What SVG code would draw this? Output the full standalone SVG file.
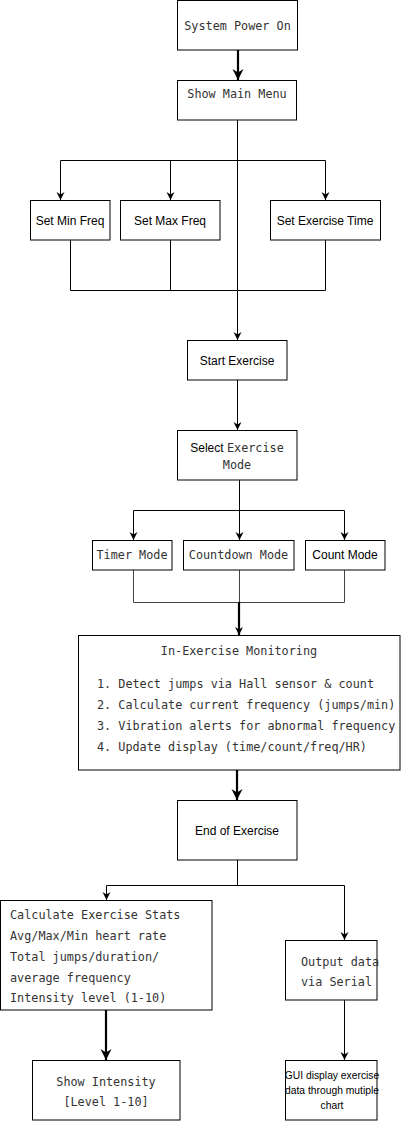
<svg xmlns="http://www.w3.org/2000/svg" width="406" height="1121" viewBox="0 0 406 1121">
<style>
.box{fill:#fff;stroke:#000;stroke-width:1}
.m{font-family:"DejaVu Sans Mono","Liberation Mono",monospace;font-size:11.8px;fill:#333}
.s{font-family:"Liberation Sans",Arial,sans-serif;font-size:12px;fill:#000}
.ln{fill:none;stroke:#000;stroke-width:1}
.gr{fill:none;stroke:#444;stroke-width:1}
.th{fill:none;stroke:#000;stroke-width:2.2}
</style>
<defs>
<marker id="a" markerUnits="userSpaceOnUse" markerWidth="10" markerHeight="10" viewBox="-10 -5 10 10" refX="0" refY="0" orient="auto">
<path d="M0,0 L-8,-4 L-5.5,0 L-8,4 Z" fill="#000"/>
</marker>
<marker id="b" markerUnits="userSpaceOnUse" markerWidth="14" markerHeight="14" viewBox="-14 -7 14 14" refX="0" refY="0" orient="auto">
<path d="M0,0 L-11,-5.5 L-7.5,0 L-11,5.5 Z" fill="#000"/>
</marker>
</defs>
<rect width="406" height="1121" fill="#fff"/>
<g id="connectors">
<path class="th" d="M238,50 V80" marker-end="url(#b)"/>
<path class="ln" d="M237.5,120 V340" marker-end="url(#a)"/>
<path class="ln" d="M60.5,160.5 H325.5"/>
<path class="ln" d="M60.5,160.5 V200" marker-end="url(#a)"/>
<path class="ln" d="M170.5,160.5 V200" marker-end="url(#a)"/>
<path class="ln" d="M325.5,160.5 V200" marker-end="url(#a)"/>
<path class="ln" d="M70.5,240 V290.5 H325.5 V240"/>
<path class="ln" d="M170.5,240 V290.5"/>
<path class="ln" d="M237.5,380 V430" marker-end="url(#a)"/>
<path class="ln" d="M239.5,480 V540" marker-end="url(#a)"/>
<path class="ln" d="M133.5,510.5 H344.5"/>
<path class="ln" d="M133.5,510.5 V540" marker-end="url(#a)"/>
<path class="ln" d="M344.5,510.5 V540" marker-end="url(#a)"/>
<path class="gr" d="M133.5,570 V602.5 H344.5 V570"/>
<path class="gr" d="M239.5,570 V602.5"/>
<path class="th" d="M239,602 V635" marker-end="url(#a)"/>
<path class="th" d="M237,770 V800" marker-end="url(#b)"/>
<path class="ln" d="M237.5,860 V885.5"/>
<path class="ln" d="M106.5,885.5 H344.5"/>
<path class="ln" d="M106.5,885.5 V900" marker-end="url(#a)"/>
<path class="ln" d="M344.5,885.5 V940" marker-end="url(#a)"/>
<path class="th" d="M106,1010 V1060" marker-end="url(#b)"/>
<path class="ln" d="M344.5,1000 V1060" marker-end="url(#a)"/>
</g>
<g id="n1"><rect class="box" x="177.5" y="0.5" width="120" height="49.5"/><text class="m" x="237.5" y="30" text-anchor="middle">System Power On</text></g>
<g id="n2"><rect class="box" x="177.5" y="80.5" width="119" height="39.5"/><text class="m" x="237" y="98" text-anchor="middle">Show Main Menu</text></g>
<g id="n3"><rect class="box" x="30.5" y="200.5" width="79.5" height="39.5"/><text class="s" x="70" y="224.5" text-anchor="middle">Set Min Freq</text></g>
<g id="n4"><rect class="box" x="120.5" y="200.5" width="99.5" height="39.5"/><text class="s" x="170" y="224.5" text-anchor="middle">Set Max Freq</text></g>
<g id="n5"><rect class="box" x="270.5" y="200.5" width="110" height="39.5"/><text class="s" x="325" y="224.5" text-anchor="middle">Set Exercise Time</text></g>
<g id="n6"><rect class="box" x="187.5" y="340.5" width="99.5" height="39.5"/><text class="s" x="237" y="364.5" text-anchor="middle">Start Exercise</text></g>
<g id="n7"><rect class="box" x="177.5" y="430.5" width="119.5" height="49.5"/><text x="237" y="451.5" text-anchor="middle"><tspan class="s">Select </tspan><tspan class="m">Exercise</tspan></text><text class="m" x="237" y="468.5" text-anchor="middle">Mode</text></g>
<g id="n8"><rect class="box" x="92.5" y="540.5" width="79.5" height="29.5"/><text class="m" x="132" y="559" text-anchor="middle">Timer Mode</text></g>
<g id="n9"><rect class="box" x="183.5" y="540.5" width="110.5" height="29.5"/><text class="m" x="238.5" y="559" text-anchor="middle">Countdown Mode</text></g>
<g id="n10"><rect class="box" x="305.5" y="540.5" width="79.5" height="29.5"/><text class="s" x="345" y="559" text-anchor="middle">Count Mode</text></g>
<g id="n11"><rect class="box" x="78.5" y="635.5" width="321.5" height="134.5"/>
<text class="m" x="239" y="655" text-anchor="middle">In-Exercise Monitoring</text>
<text class="m" x="97" y="687.5">1. Detect jumps via Hall sensor &amp; count</text>
<text class="m" x="97" y="708.5">2. Calculate current frequency (jumps/min)</text>
<text class="m" x="97" y="729.5">3. Vibration alerts for abnormal frequency</text>
<text class="m" x="97" y="750.5">4. Update display (time/count/freq/HR)</text></g>
<g id="n12"><rect class="box" x="177.5" y="800.5" width="119.5" height="59.5"/><text class="s" x="237" y="834.5" text-anchor="middle">End of Exercise</text></g>
<g id="n13"><rect class="box" x="0.5" y="900.5" width="211.5" height="109.5"/>
<text class="m" x="10" y="919">Calculate Exercise Stats</text>
<text class="m" x="10" y="940">Avg/Max/Min heart rate</text>
<text class="m" x="10" y="961">Total jumps/duration/</text>
<text class="m" x="10" y="982">average frequency</text>
<text class="m" x="10" y="1002">Intensity level (1-10)</text></g>
<g id="n14"><rect class="box" x="32.5" y="1060.5" width="147.5" height="59.5"/><text class="m" x="106" y="1086" text-anchor="middle">Show Intensity</text><text class="m" x="106" y="1106" text-anchor="middle"> [Level 1-10]</text></g>
<g id="n15"><rect class="box" x="285.5" y="940.5" width="91.5" height="59.5"/><text class="m" x="301" y="966">Output data</text><text class="m" x="301" y="986">via Serial</text></g>
<g id="n16"><rect class="box" x="285.5" y="1060.5" width="91.5" height="59.5"/>
<text class="s" x="332" y="1079" text-anchor="middle" style="font-size:10.3px">GUI display exercise</text>
<text class="s" x="332" y="1094" text-anchor="middle" style="font-size:10.3px">data through mutiple</text>
<text class="s" x="332" y="1109" text-anchor="middle" style="font-size:10.3px">chart</text></g>
</svg>
